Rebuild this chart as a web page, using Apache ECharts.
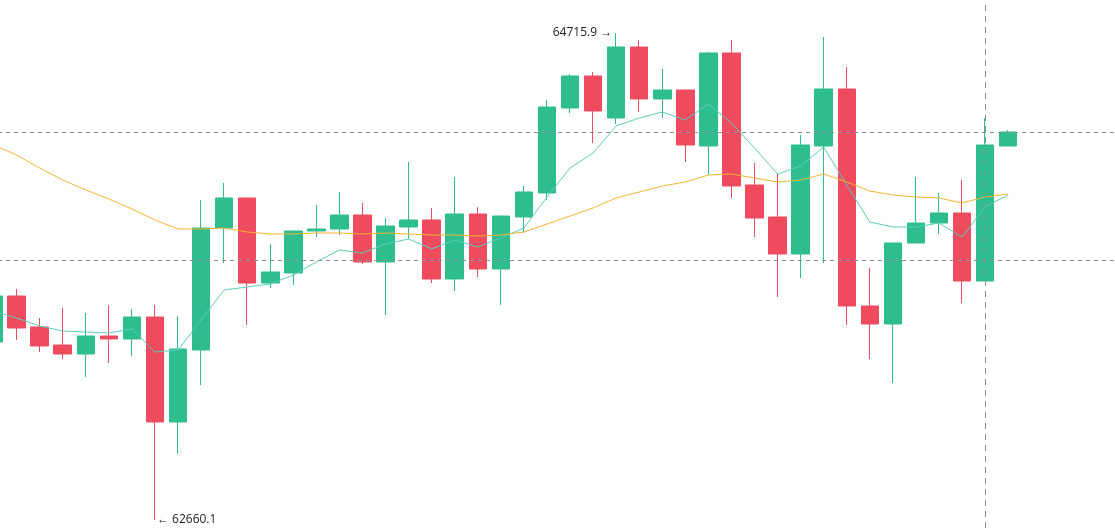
<!DOCTYPE html>
<html>
<head>
<meta charset="utf-8">
<title>K线</title>
<script src="https://cdn.jsdelivr.net/npm/echarts@6/dist/echarts.min.js"></script>
<style>
  html, body { margin: 0; padding: 0; background: #fff; overflow: hidden; width: 1115px; height: 528px; position: relative; }
  /* 第一根K线只露出一半, 所以把画布往左挪一点 */
  #main { position: absolute; left: -18px; top: 0; width: 1153px; height: 528px; }
</style>
</head>
<body>
<div id="main"></div>
<script>
// 横轴时间(后面几格留空)
const categories = [
  '09:00', '09:15', '09:30', '09:45', '10:00', '10:15', '10:30', '10:45', '11:00', '11:15',
  '11:30', '11:45', '12:00', '12:15', '12:30', '12:45', '13:00', '13:15', '13:30', '13:45',
  '14:00', '14:15', '14:30', '14:45', '15:00', '15:15', '15:30', '15:45', '16:00', '16:15',
  '16:30', '16:45', '17:00', '17:15', '17:30', '17:45', '18:00', '18:15', '18:30', '18:45',
  '19:00', '19:15', '19:30', '19:45', '20:00', '20:15', '20:30', '20:45', '21:00', '21:15'
]

// [open, close, low, high]
const candles = [
  [63411.5, 63605.7, 63398.8, 63631.0],
  [63605.7, 63470.6, 63419.9, 63635.2],
  [63474.8, 63394.6, 63369.3, 63512.8],
  [63398.8, 63360.8, 63339.7, 63555.0],
  [63360.8, 63436.8, 63263.7, 63533.9],
  [63436.8, 63424.2, 63322.8, 63567.7],
  [63424.2, 63517.0, 63352.4, 63550.8],
  [63517.0, 63073.8, 62660.1, 63567.7],
  [63073.8, 63381.9, 62938.7, 63521.2],
  [63377.7, 63892.7, 63230.0, 64010.9],
  [63892.7, 64019.4, 63745.0, 64082.7],
  [64019.4, 63660.5, 63483.2, 64019.4],
  [63660.5, 63707.0, 63639.4, 63825.2],
  [63702.8, 63880.1, 63652.1, 63880.1],
  [63880.1, 63888.5, 63854.7, 63989.8],
  [63888.5, 63947.6, 63863.2, 64044.7],
  [63947.6, 63749.2, 63740.8, 63998.3],
  [63749.2, 63901.2, 63525.5, 63934.9],
  [63896.9, 63926.5, 63846.3, 64171.3],
  [63926.5, 63677.4, 63660.5, 63977.2],
  [63677.4, 63951.8, 63626.8, 64108.0],
  [63951.8, 63719.6, 63685.9, 63981.4],
  [63719.6, 63943.4, 63567.7, 63943.4],
  [63939.2, 64044.7, 63871.6, 64070.0],
  [64040.5, 64403.5, 64010.9, 64433.1],
  [64399.3, 64534.4, 64378.2, 64542.8],
  [64534.4, 64386.6, 64251.5, 64551.3],
  [64357.1, 64656.8, 64331.8, 64715.9],
  [64656.8, 64437.3, 64382.4, 64686.3],
  [64437.3, 64475.3, 64357.1, 64563.9],
  [64475.3, 64243.1, 64171.3, 64475.3],
  [64238.9, 64631.5, 64116.5, 64635.7],
  [64631.5, 64070.0, 64019.4, 64686.3],
  [64074.2, 63934.9, 63854.7, 64167.1],
  [63939.2, 63783.0, 63601.4, 64124.9],
  [63783.0, 64243.1, 63681.6, 64285.3],
  [64238.9, 64479.5, 63745.0, 64699.0],
  [64479.5, 63563.5, 63483.2, 64572.4],
  [63563.5, 63487.5, 63339.7, 63723.9],
  [63487.5, 63829.4, 63238.4, 63829.4],
  [63829.4, 63913.8, 63829.4, 64108.0],
  [63913.8, 63956.0, 63867.4, 64040.5],
  [63956.0, 63669.0, 63576.1, 64095.4],
  [63669.0, 64243.1, 63669.0, 64357.1],
  [64238.9, 64298.0, 64238.9, 64306.4]
]

// 短均线(青色)
const maShort = [
  63542.3, 63512.8, 63479.0, 63457.9, 63453.7, 63449.5, 63466.4, 63369.3, 63377.7, 63504.4,
  63631.0, 63643.7, 63656.3, 63694.3, 63749.2, 63799.9, 63787.2, 63825.2, 63846.3, 63804.1,
  63842.1, 63812.5, 63850.5, 63892.7, 64023.6, 64146.0, 64209.3, 64323.3, 64357.1, 64382.4,
  64348.6, 64416.2, 64336.0, 64230.4, 64120.7, 64154.4, 64234.7, 64074.2, 63918.0, 63896.9,
  63896.9, 63913.8, 63854.7, 63981.4, 64032.0
]

// 长均线(黄色)
const maLong = [
  64243.1, 64200.9, 64146.0, 64095.4, 64053.1, 64015.1, 63972.9, 63926.5, 63888.5, 63888.5,
  63892.7, 63875.8, 63867.4, 63867.4, 63871.6, 63871.6, 63867.4, 63871.6, 63867.4, 63863.2,
  63863.2, 63859.0, 63863.2, 63875.8, 63909.6, 63943.4, 63977.2, 64019.4, 64044.7, 64070.0,
  64086.9, 64116.5, 64120.7, 64103.8, 64086.9, 64095.4, 64120.7, 64086.9, 64048.9, 64032.0,
  64023.6, 64019.4, 63998.3, 64023.6, 64036.3
]

// 虚线: 最新价 / 另一条价位线
const priceLines = [64298.0, 63757.6]
const crossIndex = 43

const upColor = '#2ebd8f'
const downColor = '#ef4b5e'
const dashColor = '#8c9096'

let myChart = echarts.init(document.getElementById('main'))

const option = {
  animation: false,
  backgroundColor: '#fff',
  grid: { left: 0, right: 0, top: 0, bottom: 0 },
  xAxis: {
    type: 'category',
    data: categories,
    boundaryGap: true,
    show: false
  },
  yAxis: {
    type: 'value',
    min: 62626.3,
    max: 64855.2,
    show: false,
    splitLine: { show: false }
  },
  series: [
    {
      name: 'K',
      type: 'candlestick',
      data: candles,
      barWidth: 18,
      itemStyle: {
        color: upColor,
        color0: downColor,
        borderColor: upColor,
        borderColor0: downColor,
        borderWidth: 1
      },
      markPoint: {
        symbol: 'circle',
        symbolSize: 0,
        data: [
          {
            type: 'max', valueDim: 'highest',
            label: { show: true, position: 'left', distance: 4, formatter: '{c} \u2192', color: '#222', fontSize: 12, fontFamily: 'Open Sans' }
          },
          {
            type: 'min', valueDim: 'lowest',
            label: { show: true, position: 'right', distance: 2, formatter: '\u2190 {c}', color: '#222', fontSize: 12, fontFamily: 'Open Sans' }
          }
        ]
      },
      markLine: {
        silent: true,
        symbol: ['none', 'none'],
        label: { show: false },
        lineStyle: { type: [4, 4], color: dashColor, width: 1 },
        data: [
          { yAxis: priceLines[0] },
          { yAxis: priceLines[1] },
          { xAxis: crossIndex, lineStyle: { type: [6, 5] } }
        ]
      }
    },
    {
      name: 'MA short',
      type: 'line',
      data: maShort,
      showSymbol: false,
      symbol: 'none',
      lineStyle: { width: 1, color: '#5ccdb8' },
      z: 3
    },
    {
      name: 'MA long',
      type: 'line',
      data: maLong,
      showSymbol: false,
      symbol: 'none',
      lineStyle: { width: 1, color: '#f2b531' },
      z: 3
    }
  ]
}

myChart.setOption(option)
window.onresize = function () {
  myChart.resize()
}
</script>
</body>
</html>
